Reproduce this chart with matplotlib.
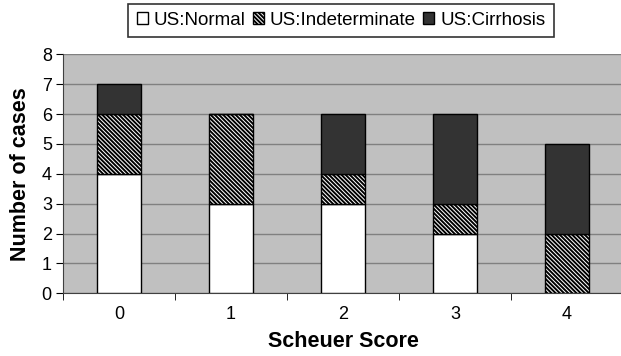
import matplotlib
matplotlib.use("Agg")
import matplotlib.pyplot as plt
import numpy as np

plt.rcParams['font.family'] = ['Liberation Sans', 'DejaVu Sans']
plt.rcParams['hatch.linewidth'] = 1.4

scores = ["0", "1", "2", "3", "4"]
normal = [4, 3, 3, 2, 0]
indeterminate = [2, 3, 1, 1, 2]
cirrhosis = [1, 0, 2, 3, 3]

fig = plt.figure(figsize=(6.21, 3.56), dpi=100)
ax = fig.add_axes([0.1014, 0.176, 0.9018, 0.6713])
ax.set_facecolor("#c0c0c0")

x = np.arange(len(scores))
w = 0.39
b1 = ax.bar(x, normal, w, color="white", edgecolor="black", lw=1, label="US:Normal", zorder=3)
b2 = ax.bar(x, indeterminate, w, bottom=normal, color="white", edgecolor="black",
            hatch="\\" * 8, lw=1, label="US:Indeterminate", zorder=3)
bottom2 = np.array(normal) + np.array(indeterminate)
b3 = ax.bar(x, cirrhosis, w, bottom=bottom2, color="#333333", edgecolor="black",
            lw=1, label="US:Cirrhosis", zorder=3)

ax.set_xlim(-0.5, 4.5)
ax.set_ylim(0, 8)
ax.set_yticks(range(9))
ax.yaxis.grid(True, color="#808080", lw=1, zorder=1)
ax.set_axisbelow(True)

ax.set_xticks(x)
ax.set_xticklabels(scores, fontsize=13)
ax.set_xticks(np.arange(-0.5, 5, 1), minor=True)
ax.tick_params(axis="x", which="major", length=0, pad=9)
ax.tick_params(axis="x", which="minor", length=5, direction="out")
ax.tick_params(axis="y", labelsize=13, length=5, pad=3)

for s in ["top", "right"]:
    ax.spines[s].set_visible(False)
ax.spines["left"].set_color("#404040")
ax.spines["bottom"].set_color("#404040")

ax.set_ylabel("Number of cases", fontsize=15.5, fontweight="bold", labelpad=8)
ax.set_xlabel("Scheuer Score", fontsize=15.5, fontweight="bold", labelpad=6)

leg = fig.legend(handles=[b1, b2, b3], loc="upper center", bbox_to_anchor=(0.549, 0.99),
                 ncol=3, fontsize=13.5, frameon=True, fancybox=False, edgecolor="black",
                 handlelength=0.6, handleheight=0.6, handletextpad=0.3, columnspacing=0.4,
                 borderpad=0.45, borderaxespad=0)
leg.get_frame().set_linewidth(1.2)

fig.savefig("out.png", dpi=100)
